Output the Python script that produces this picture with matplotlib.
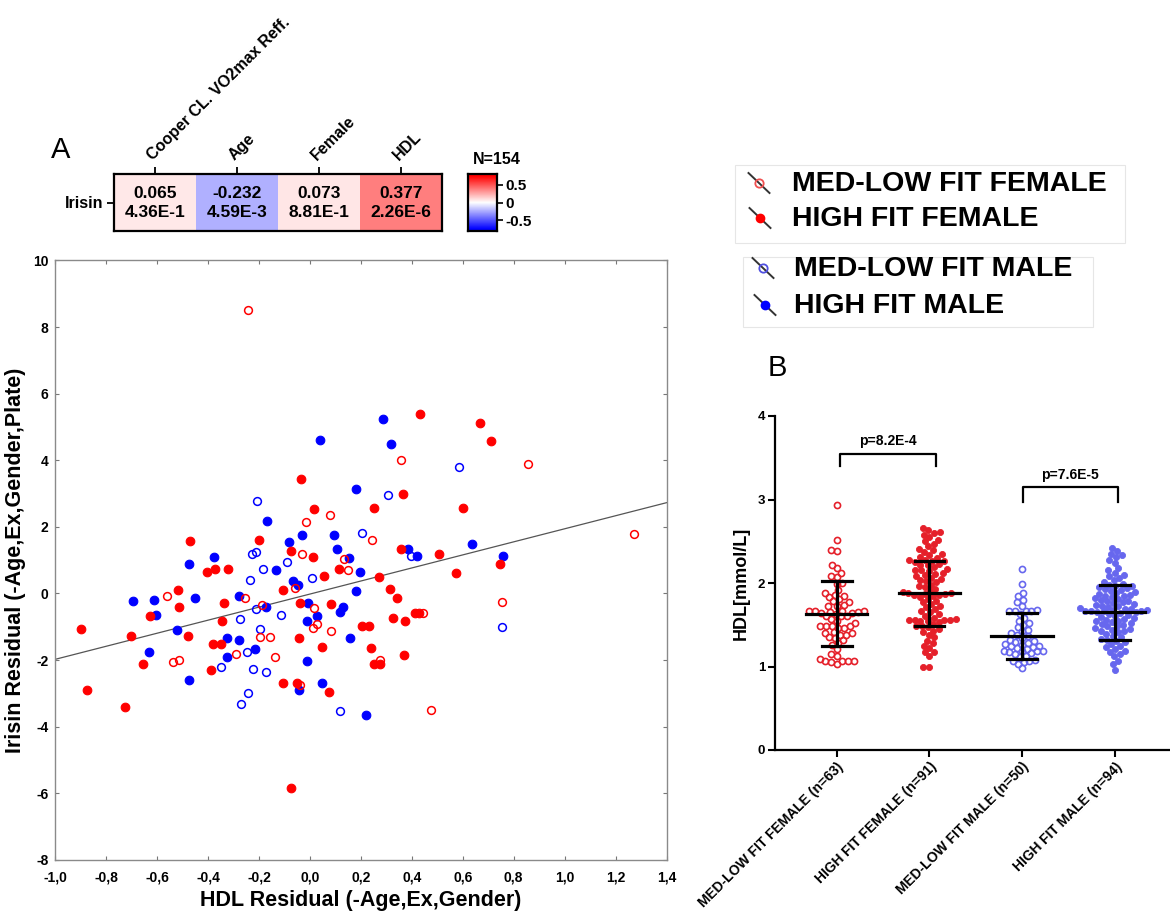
import numpy as np
import matplotlib
matplotlib.use("Agg")
import matplotlib.pyplot as plt
from matplotlib.patches import Rectangle
from matplotlib.colors import LinearSegmentedColormap, Normalize
from matplotlib.ticker import FuncFormatter

plt.rcParams['font.family'] = ['Liberation Sans', 'DejaVu Sans']

# ---------------- Panel A : correlation strip ----------------
heat_cols = ['Cooper CL. VO2max Reff.', 'Age', 'Female', 'HDL']
heat_row = 'Irisin'
heat_r = [0.065, -0.232, 0.073, 0.377]
heat_p = ['4.36E-1', '4.59E-3', '8.81E-1', '2.26E-6']
heat_title = 'N=154'
cbar_ticks = [0.5, 0, -0.5]
cbar_ticklabels = ['0.5', '0', '-0.5']

# ---------------- Panel A : residual scatter ----------------
mlf_female_x = [0.358, 0.079, -0.015, 0.245, -0.031, 0.134, 0.148, -0.057, -0.187, 0.015,
                0.029, 0.011, 0.081, 0.443, -0.196, -0.157, -0.136, 0.275, -0.039, 0.475,
                -0.562, -0.255, -0.289, -0.539, -0.515, 0.856, 1.274, 0.754, -0.245]
mlf_female_y = [4.02, 2.34, 2.15, 1.61, 1.18, 1.03, 0.71, 0.15, -0.36, -0.43,
                -0.93, -1.05, -1.13, -0.60, -1.31, -1.31, -1.90, -1.99, -2.75, -3.50,
                -0.09, -0.15, -1.81, -2.05, -1.99, 3.89, 1.78, -0.26, 8.51]

hf_female_x = [0.432, 0.668, -0.036, 0.367, 0.017, 0.253, 0.600, -0.201, -0.074, 0.011,
               0.359, 0.505, 0.055, 0.115, -0.107, 0.270, 0.573, 0.314, 0.342, -0.039,
               0.083, 0.327, 0.373, 0.411, 0.427, 0.204, 0.232, -0.042, 0.047, 0.240,
               0.370, 0.252, 0.274, -0.104, -0.052, 0.076, -0.403, -0.374, -0.320, -0.518,
               -0.337, -0.629, -0.513, -0.344, -0.900, -0.701, -0.479, -0.379, -0.348, -0.657,
               -0.390, -0.876, -0.726, -0.472, 0.711, 0.747, -0.075]
hf_female_y = [5.38, 5.12, 3.44, 2.99, 2.53, 2.57, 2.57, 1.61, 1.28, 1.10,
               1.34, 1.17, 0.52, 0.73, 0.11, 0.49, 0.60, 0.13, -0.13, -0.30,
               -0.32, -0.73, -0.82, -0.60, -0.60, -0.99, -0.99, -1.33, -1.60, -1.63,
               -1.85, -2.13, -2.11, -2.68, -2.70, -2.96, 0.63, 0.72, 0.74, 0.11,
               -0.29, -0.69, -0.41, -0.83, -1.07, -1.29, -1.29, -1.53, -1.51, -2.13,
               -2.31, -2.91, -3.40, 1.56, 4.58, 0.88, -5.84]

mlf_male_x = [0.587, 0.305, -0.209, 0.203, 0.397, -0.226, -0.210, -0.089, -0.183, -0.237,
              0.009, -0.212, -0.114, -0.197, -0.224, -0.174, -0.243, 0.118, -0.273, -0.247,
              -0.350, -0.269, 0.754]
mlf_male_y = [3.80, 2.96, 2.78, 1.80, 1.13, 1.18, 1.24, 0.95, 0.73, 0.41,
              0.46, -0.48, -0.65, -1.08, -2.28, -2.36, -2.99, -3.53, -0.76, -1.76,
              -2.20, -3.32, -1.02]

hf_male_x = [0.288, 0.038, 0.317, 0.181, -0.168, -0.081, -0.031, 0.094, 0.636, 0.105,
             0.152, 0.386, 0.422, -0.133, 0.195, -0.068, -0.048, 0.180, -0.172, -0.006,
             0.130, 0.118, 0.026, -0.010, 0.156, -0.217, -0.013, -0.044, 0.046, 0.220,
             -0.475, -0.377, -0.693, -0.612, -0.450, -0.277, -0.606, -0.523, -0.327, -0.280,
             -0.632, -0.324, -0.475, 0.759]
hf_male_y = [5.23, 4.61, 4.48, 3.14, 2.18, 1.55, 1.75, 1.75, 1.48, 1.34,
             1.07, 1.32, 1.12, 0.70, 0.63, 0.38, 0.25, 0.08, -0.40, -0.30,
             -0.42, -0.57, -0.69, -0.84, -1.35, -1.67, -2.03, -2.90, -2.68, -3.66,
             0.87, 1.10, -0.23, -0.21, -0.13, -0.08, -0.64, -1.09, -1.33, -1.41,
             -1.77, -1.91, -2.60, 1.12]

fit_intercept = -0.02
fit_slope = 1.96
scatter_xticks = [-1.0, -0.8, -0.6, -0.4, -0.2, 0.0, 0.2, 0.4, 0.6, 0.8, 1.0, 1.2, 1.4]
scatter_yticks = [-8, -6, -4, -2, 0, 2, 4, 6, 8, 10]
scatter_xlabel = 'HDL Residual (-Age,Ex,Gender)'
scatter_ylabel = 'Irisin Residual (-Age,Ex,Gender,Plate)'

legend_labels = ['MED-LOW FIT FEMALE', 'HIGH FIT FEMALE', 'MED-LOW FIT MALE', 'HIGH FIT MALE']

# ---------------- Panel B : HDL by group ----------------
group_labels = ['MED-LOW FIT FEMALE (n=63)', 'HIGH FIT FEMALE (n=91)',
                'MED-LOW FIT MALE (n=50)', 'HIGH FIT MALE (n=94)']
hdl_mlf_female = [2.93, 2.51, 2.40, 2.38, 2.22, 2.18, 2.12, 2.08, 2.07, 2.00,
                  1.99, 1.92, 1.88, 1.86, 1.85, 1.83, 1.81, 1.78, 1.77, 1.74,
                  1.72, 1.72, 1.67, 1.67, 1.66, 1.66, 1.65, 1.65, 1.64, 1.64,
                  1.63, 1.60, 1.60, 1.60, 1.57, 1.55, 1.52, 1.48, 1.48, 1.48,
                  1.48, 1.46, 1.46, 1.41, 1.40, 1.40, 1.38, 1.38, 1.35, 1.34,
                  1.32, 1.28, 1.26, 1.21, 1.15, 1.12, 1.09, 1.07, 1.06, 1.06,
                  1.06, 1.05, 1.03]
hdl_hf_female = [2.66, 2.63, 2.61, 2.60,
                 2.57, 2.55, 2.52, 2.50, 2.47, 2.44, 2.41,
                 2.39, 2.37, 2.35, 2.33, 2.31, 2.30, 2.28, 2.27, 2.26, 2.26, 2.25, 2.23, 2.22, 2.21,
                 2.19, 2.17, 2.16, 2.15, 2.14, 2.12, 2.11, 2.09, 2.08, 2.06, 2.05, 2.03, 2.02, 2.01,
                 1.98, 1.96, 1.95, 1.93, 1.91, 1.89, 1.88, 1.88, 1.87, 1.87, 1.86, 1.86, 1.85, 1.83, 1.81,
                 1.79, 1.77, 1.75, 1.73, 1.71, 1.69, 1.67, 1.65, 1.63, 1.61,
                 1.58, 1.57, 1.56, 1.56, 1.56, 1.56, 1.55, 1.55, 1.53, 1.51,
                 1.49, 1.48, 1.47, 1.45, 1.43, 1.41,
                 1.38, 1.35, 1.31, 1.28, 1.25, 1.22,
                 1.17, 1.17, 1.12,
                 1.00, 1.00]
hdl_mlf_male = [2.17, 1.99,
                1.88, 1.84, 1.80, 1.77, 1.73,
                1.68, 1.67, 1.67, 1.66, 1.66, 1.63,
                1.58, 1.55, 1.52, 1.50,
                1.47, 1.44, 1.42, 1.40,
                1.38, 1.36, 1.34, 1.32, 1.30,
                1.29, 1.28, 1.27, 1.26, 1.25, 1.24, 1.23, 1.22, 1.21,
                1.19, 1.19, 1.18, 1.18, 1.17, 1.16, 1.15, 1.13, 1.11,
                1.08, 1.07, 1.06, 1.05, 1.03,
                0.98]
hdl_hf_male = [2.42,
               2.38, 2.35, 2.33, 2.31,
               2.27, 2.24,
               2.18, 2.15, 2.12, 2.10, 2.08, 2.06, 2.03, 2.01,
               1.99, 1.98, 1.97, 1.96, 1.95, 1.94, 1.93, 1.92, 1.91,
               1.89, 1.88, 1.87, 1.86, 1.85, 1.84, 1.83, 1.82, 1.81, 1.80,
               1.79, 1.78, 1.77, 1.76, 1.75, 1.74, 1.73, 1.72, 1.71, 1.70,
               1.69, 1.69, 1.68, 1.68, 1.67, 1.67, 1.66, 1.66, 1.65, 1.65, 1.64, 1.63, 1.62, 1.61,
               1.59, 1.58, 1.57, 1.56, 1.55, 1.54, 1.53, 1.52, 1.51, 1.50,
               1.49, 1.48, 1.46, 1.45, 1.44, 1.43, 1.42, 1.41,
               1.39, 1.37, 1.35, 1.33, 1.32, 1.31,
               1.29, 1.27, 1.25, 1.23, 1.21,
               1.19, 1.17, 1.15, 1.12,
               1.07, 1.03,
               0.96]
group_mean = [1.63, 1.876, 1.37, 1.65]
group_sd_low = [1.24, 1.485, 1.086, 1.317]
group_sd_high = [2.02, 2.26, 1.645, 1.98]
bracket_pairs = [(0.03, 1.07), (2.01, 3.03)]
bracket_top = [3.55, 3.15]
bracket_bottom = [3.40, 2.97]
bracket_text = ['p=8.2E-4', 'p=7.6E-5']
bracket_text_y = [3.70, 3.29]
hdl_yticks = [0, 1, 2, 3, 4]

# ---------------- styles ----------------
RED = '#FF0000'
BLUE = '#0000FF'
B_RED = '#E5202A'
B_BLUE = '#6767EE'
W, H = 1170, 911


def box(x0, y0, x1, y1):
    return [x0 / W, 1 - y1 / H, (x1 - x0) / W, (y1 - y0) / H]


fig = plt.figure(figsize=(W / 100, H / 100), dpi=100)
fig.patch.set_facecolor('white')

# overlay in pixel coordinates (for legends and panel letters)
ov = fig.add_axes([0, 0, 1, 1])
ov.set_xlim(0, W)
ov.set_ylim(H, 0)
ov.axis('off')
ov.patch.set_alpha(0)

ov.text(61, 150, 'A', fontsize=21, ha='center', va='center')
ov.text(777, 368, 'B', fontsize=21, ha='center', va='center')

# ---------------- heatmap strip ----------------
cmap = LinearSegmentedColormap.from_list('bwr2', ['#0000FF', '#FFFFFF', '#FF0000'])
norm = Normalize(vmin=-0.75, vmax=0.75)
hx = fig.add_axes(box(114, 174, 441.5, 231))
hx.imshow(np.array([heat_r]), cmap=cmap, norm=norm, aspect='auto')
for i, (r, p) in enumerate(zip(heat_r, heat_p)):
    hx.text(i, -0.15, f'{r:.3f}', ha='center', va='center', fontsize=12.5, fontweight='bold')
    hx.text(i, 0.17, p, ha='center', va='center', fontsize=12.5, fontweight='bold')
hx.xaxis.tick_top()
hx.set_xticks(range(len(heat_cols)))
hx.set_xticklabels(heat_cols, rotation=45, ha='left', va='bottom', rotation_mode='anchor',
                   fontsize=11.5, fontweight='bold')
hx.set_yticks([0])
hx.set_yticklabels([heat_row], fontsize=11.5, fontweight='bold')
hx.tick_params(axis='both', length=5, width=1.3, color='black', pad=3)
for s in hx.spines.values():
    s.set_linewidth(1.6)

# colorbar
cx = fig.add_axes(box(468, 174, 497, 231))
grad = np.linspace(0.8, -0.8, 256)[:, None]
cx.imshow(grad, cmap=cmap, norm=norm, aspect='auto', extent=[0, 1, -0.8, 0.8])
cx.set_xticks([])
cx.yaxis.tick_right()
cx.set_yticks(cbar_ticks)
cx.set_yticklabels(cbar_ticklabels, fontsize=11, fontweight='bold')
cx.tick_params(axis='y', length=4, width=1.2, pad=2)
for s in cx.spines.values():
    s.set_linewidth(1.6)
ov.text(497, 160, heat_title, ha='center', va='center', fontsize=11.5, fontweight='bold')

# ---------------- residual scatter ----------------
ax = fig.add_axes(box(55.2, 260.4, 666.5, 859.8))
ax.set_xlim(-1.0, 1.4)
ax.set_ylim(-8, 10)
ms = 6.2
ax.plot(hf_male_x, hf_male_y, 'o', ms=ms, color=BLUE, mec=BLUE, mew=0.8, zorder=3)
ax.plot(hf_female_x, hf_female_y, 'o', ms=ms, color=RED, mec=RED, mew=0.8, zorder=3)
ax.plot(mlf_male_x, mlf_male_y, 'o', ms=ms - 0.6, mfc='none', mec=BLUE, mew=1.1, zorder=3)
ax.plot(mlf_female_x, mlf_female_y, 'o', ms=ms - 0.6, mfc='none', mec=RED, mew=1.1, zorder=3)
lx = np.array(ax.get_xlim())
ax.plot(lx, fit_intercept + fit_slope * lx, color='#555555', lw=0.9, zorder=2)
ax.set_xticks(scatter_xticks)
ax.set_yticks(scatter_yticks)
ax.xaxis.set_major_formatter(FuncFormatter(lambda v, p: f'{v:.1f}'.replace('.', ',').replace('-0,0', '0,0')))
ax.yaxis.set_major_formatter(FuncFormatter(lambda v, p: f'{int(round(v))}'))
for lab in ax.get_xticklabels() + ax.get_yticklabels():
    lab.set_fontweight('bold')
ax.tick_params(axis='both', direction='in', length=3, width=0.8, color='#777777',
               labelsize=10, top=True, right=True)
ax.tick_params(axis='x', pad=8)
ax.tick_params(axis='y', pad=5)
for s in ax.spines.values():
    s.set_color('#8a8a8a')
    s.set_linewidth(1.0)
ax.set_xlabel(scatter_xlabel, fontsize=15.5, fontweight='bold', labelpad=4)
ax.set_ylabel(scatter_ylabel, fontsize=15.5, fontweight='bold', labelpad=5)

# ---------------- legend boxes ----------------
ov.add_patch(Rectangle((735, 165), 390, 78, fill=False, ec='#e6e6e6', lw=0.8))
ov.add_patch(Rectangle((743, 257), 350, 70, fill=False, ec='#e6e6e6', lw=0.8))
leg_pos = [(759, 183, 792), (760, 218, 792), (763, 268, 794), (765, 305, 794)]
leg_style = [dict(mfc='none', mec='#F05050', mew=1.3), dict(mfc=RED, mec=RED, mew=1.0),
             dict(mfc='none', mec='#5050E0', mew=1.3), dict(mfc=BLUE, mec=BLUE, mew=1.0)]
for (mx, my, tx), st, lab in zip(leg_pos, leg_style, legend_labels):
    ov.plot([mx - 10.5, mx + 10.5], [my - 10, my + 10], color='#333333', lw=1.4, zorder=2)
    ov.plot([mx], [my], 'o', ms=6, zorder=3, **st)
    ov.text(tx, my + 1, lab, fontsize=20.5, fontweight='bold', ha='left', va='center')

# ---------------- Panel B ----------------
bx = fig.add_axes(box(775, 416, 1170, 750))
bx.set_xlim(-0.666, 3.596)
bx.set_ylim(0, 4)
fig.canvas.draw()
p0 = bx.transData.transform((0, 0))
p1 = bx.transData.transform((1, 1))
xpx, ypx = p1[0] - p0[0], p1[1] - p0[1]


def swarm_offsets(vals, d_px):
    vals = np.asarray(vals, dtype=float)
    order = np.argsort(vals, kind='stable')
    placed = []
    offs = np.zeros(len(vals))
    for i in order:
        y = vals[i] * ypx
        near = [(px, py) for px, py in placed if abs(py - y) < d_px]
        cands = [0.0]
        for px, py in near:
            dx = np.sqrt(d_px ** 2 - (py - y) ** 2)
            cands += [px + dx, px - dx]
        cands.sort(key=lambda c: (round(abs(c), 6), c))
        chosen = cands[-1]
        for c in cands:
            if all((c - px) ** 2 + (y - py) ** 2 >= d_px ** 2 - 1e-6 for px, py in near):
                chosen = c
                break
        placed.append((chosen, y))
        offs[i] = chosen / xpx
    return offs


groups_vals = [hdl_mlf_female, hdl_hf_female, hdl_mlf_male, hdl_hf_male]
groups_style = [dict(mfc='none', mec=B_RED, mew=1.2), dict(mfc=B_RED, mec=B_RED, mew=0.6),
                dict(mfc='none', mec=B_BLUE, mew=1.2), dict(mfc=B_BLUE, mec=B_BLUE, mew=0.6)]
for gi, (vals, st) in enumerate(zip(groups_vals, groups_style)):
    offs = swarm_offsets(vals, 6.0)
    bx.plot(gi + offs, vals, 'o', ms=4.4, zorder=2, clip_on=False, **st)
    bx.plot([gi - 0.33, gi + 0.33], [group_mean[gi]] * 2, color='black', lw=2.3, zorder=4)
    bx.plot([gi, gi], [group_sd_low[gi], group_sd_high[gi]], color='black', lw=2.3, zorder=4)
    for yv in (group_sd_low[gi], group_sd_high[gi]):
        bx.plot([gi - 0.16, gi + 0.16], [yv, yv], color='black', lw=2.3, zorder=4)

for (a, b), yt, yb, t, ty in zip(bracket_pairs, bracket_top, bracket_bottom, bracket_text, bracket_text_y):
    bx.plot([a, a, b, b], [yb, yt, yt, yb], color='black', lw=1.6)
    bx.text((a + b) / 2, ty, t, ha='center', va='center', fontsize=10, fontweight='bold')

bx.set_xticks(range(len(group_labels)))
bx.set_xticklabels(group_labels, rotation=45, ha='right', va='top', rotation_mode='anchor',
                   fontsize=10, fontweight='bold')
bx.set_yticks(hdl_yticks)
bx.set_yticklabels([str(v) for v in hdl_yticks], fontsize=9.5, fontweight='bold')
bx.tick_params(axis='both', direction='out', length=5, width=1.5, pad=2)
bx.spines['top'].set_visible(False)
bx.spines['right'].set_visible(False)
bx.spines['left'].set_linewidth(1.6)
bx.spines['bottom'].set_linewidth(1.6)
bx.set_ylabel('HDL[mmol/L]', fontsize=13, fontweight='bold', labelpad=6)

fig.savefig('out.png', dpi=100, facecolor='white')
